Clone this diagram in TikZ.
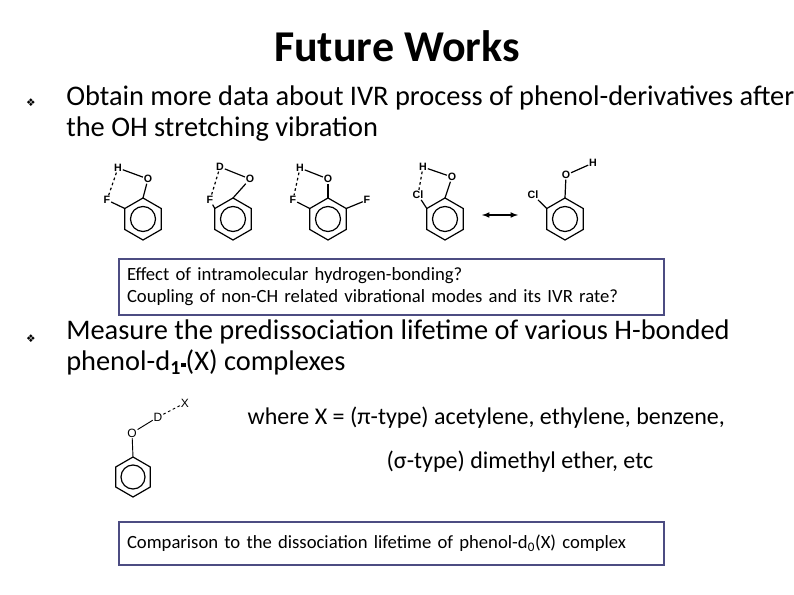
\documentclass[tikz,border=0pt]{standalone}
\usepackage{fontspec}
\setmainfont{Carlito}
\newfontfamily\sym{DejaVu Sans}
\newfontfamily\arial{Liberation Sans}
\begin{document}
\begin{tikzpicture}[x=0.75pt,y=-0.75pt,
  body/.style={anchor=north west,align=left,font=\fontsize{21.3}{23}\selectfont,inner sep=0},
  atom/.style={font=\arial\bfseries\fontsize{8}{9}\selectfont,inner sep=0.5pt},
  bond/.style={line width=0.9pt},
  hb/.style={line width=0.9pt,dash pattern=on 2pt off 2pt},
  tbox/.style={draw=black!70!blue!70,line width=1.5pt,anchor=north west,align=left,inner sep=0,text width=#1},
  bul/.style={font=\sym\fontsize{8}{8}\selectfont,inner sep=0}]
\useasboundingbox (0,0) rectangle (794,595);
\node (title) at (397,46) {\bfseries\fontsize{33}{36}\selectfont Future Works};
\node[bul] (b1) at (31,103) {❖};
\node[body] (t1) at (66,86) {Obtain more data about IVR process of phenol-derivatives after\\the OH stretching vibration};
% molecules
\foreach \cx/\nm in {143/a,233/b,328/c,445/d,565/e}{
  \draw[bond] (\cx,219)+(0,-21) -- +(18.2,-10.5) -- +(18.2,10.5) -- +(0,21) -- +(-18.2,10.5) -- +(-18.2,-10.5) -- cycle;
  \draw[bond] (\cx,219) circle (12.5);
  \coordinate (\nm t) at (\cx,198);
  \coordinate (\nm l) at (\cx-18.2,208.5);
  \coordinate (\nm r) at (\cx+18.2,208.5);
}
% mol a
\node[atom] (aO) at (148,179) {O};
\node[atom] (aH) at (118,168) {H};
\node[atom] (aF) at (107,200) {F};
\draw[bond] (at) -- (aO); \draw[bond] (aH) -- (aO); \draw[bond] (al) -- (aF); \draw[hb] (aH) -- (aF);
% mol b
\node[atom] (bO) at (250,179) {O};
\node[atom] (bD) at (220,167) {D};
\node[atom] (bF) at (210,200) {F};
\draw[bond] (bt) -- (bO); \draw[bond] (bD) -- (bO); \draw[bond] (bl) -- (bF); \draw[hb] (bD) -- (bF);
% mol c
\node[atom] (cO) at (328,179) {O};
\node[atom] (cH) at (300,168) {H};
\node[atom] (cF) at (293,200) {F};
\node[atom] (cF2) at (367,200) {F};
\draw[bond] (ct) -- (cO); \draw[bond] (cH) -- (cO); \draw[bond] (cl) -- (cF); \draw[bond] (cr) -- (cF2); \draw[hb] (cH) -- (cF);
% mol d
\node[atom] (dO) at (452,177) {O};
\node[atom] (dH) at (423,167) {H};
\node[atom] (dCl) at (418,195) {Cl};
\draw[bond] (dt) -- (dO); \draw[bond] (dH) -- (dO); \draw[bond] (dl) -- (dCl); \draw[hb] (dH) -- (dCl);
% arrow
\coordinate (ar1) at (482,215); \coordinate (ar2) at (518,215);
\draw[bond,<->,>=latex] (ar1) -- (ar2);
% mol e
\node[atom] (eO) at (566,175) {O};
\node[atom] (eH) at (593,163) {H};
\node[atom] (eCl) at (533,195) {Cl};
\draw[bond] (et) -- (eO); \draw[bond] (eO) -- (eH); \draw[bond] (el) -- (eCl);
% box 1
\node[tbox=409pt,minimum height=42pt,font=\fontsize{14}{16.5}\selectfont] (box1) at (118,258) {\raggedright\hspace*{6pt}Effect of intramolecular hydrogen-bonding?\\\hspace*{6pt}Coupling of non-CH related vibrational modes and its IVR rate?};
\node[bul] (b2) at (31,339) {❖};
\node[body] (t2) at (66,320) {Measure the predissociation lifetime of various H-bonded\\phenol-d\textsubscript{\bfseries 1}\raisebox{0.25ex}{\rule{3.5pt}{3.5pt}}(X) complexes};
% bottom molecule
\draw[bond] (133,477)+(0,-20) -- +(17.3,-10) -- +(17.3,10) -- +(0,20) -- +(-17.3,10) -- +(-17.3,-10) -- cycle;
\draw[bond] (133,477) circle (12);
\coordinate (pt) at (133,457);
\node[atom,font=\arial\fontsize{9}{9}\selectfont] (pO) at (132,433) {O};
\node[atom,font=\arial\fontsize{9}{9}\selectfont] (pD) at (158,417) {D};
\node[atom,font=\arial\fontsize{9}{9}\selectfont] (pX) at (185,403) {X};
\draw[line width=0.7pt] (pt) -- (pO); \draw[line width=0.7pt] (pO) -- (pD); \draw[hb,line width=0.7pt] (pD) -- (pX);
\node[anchor=west,font=\fontsize{18}{20}\selectfont] (wx) at (243,418) {where X = (π-type) acetylene, ethylene, benzene,};
\node[anchor=west,font=\fontsize{18}{20}\selectfont] (sx) at (382,462) {(σ-type) dimethyl ether, etc};
\node[tbox=409pt,minimum height=32pt,font=\fontsize{14}{16}\selectfont] (box2) at (118,521) {\raggedright\hspace*{6pt}Comparison to the dissociation lifetime of phenol-d\textsubscript{0}(X) complex};
\end{tikzpicture}
\end{document}
